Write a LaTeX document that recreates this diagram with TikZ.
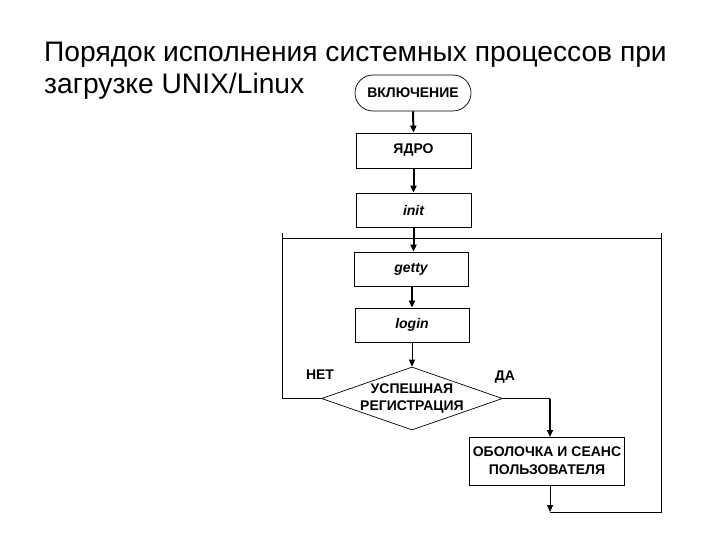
\documentclass[tikz,border=0pt]{standalone}
\usepackage{fontspec}
\setmainfont{Liberation Sans}
\usetikzlibrary{shapes.misc,shapes.geometric,arrows.meta}
\begin{document}
\begin{tikzpicture}[x=1pt,y=-1pt,
  box/.style={draw,line width=0.7pt,rectangle,inner sep=0pt,font=\fontsize{14}{15}\selectfont\bfseries},
  ibox/.style={box,font=\fontsize{14}{15}\selectfont\bfseries\itshape},
  lbl/.style={font=\fontsize{14}{17}\selectfont\bfseries,align=center,inner sep=0pt},
  thk/.style={line width=2pt,-{Triangle[length=7pt,width=6pt]}},
  thn/.style={line width=0.8pt},
  thna/.style={line width=0.8pt,-{Triangle[length=7pt,width=6pt]}}]
\useasboundingbox (0,0) rectangle (720,540);
\fill[white] (0,0) rectangle (720,540);
% title
\node[anchor=base west,inner sep=0pt,font=\fontsize{28.2}{30}\selectfont] (t1) at (44,62) {Порядок исполнения системных процессов при};
\node[anchor=base west,inner sep=0pt,font=\fontsize{28.2}{30}\selectfont] (t2) at (44,93.5) {загрузке UNIX/Linux};
% nodes
\node[draw,line width=0.7pt,rounded rectangle,minimum width=116pt,minimum height=36pt,inner sep=0pt,font=\fontsize{14}{15}\selectfont\bfseries] (vkl) at (413,93) {ВКЛЮЧЕНИЕ};
\node[box,minimum width=115pt,minimum height=35pt] (yadro) at (413.5,150.5) {ЯДРО};
\node[ibox,minimum width=115pt,minimum height=34pt] (init) at (413.5,210) {init};
\node[ibox,minimum width=114pt,minimum height=34pt] (getty) at (411,269) {getty};
\node[ibox,minimum width=114pt,minimum height=34pt] (login) at (412,325) {login};
\node[draw,line width=0.7pt,diamond,minimum width=181pt,minimum height=63pt,inner sep=0pt] (dia) at (412,398.5) {};
\node[lbl] (diat) at (412,399) {УСПЕШНАЯ\\РЕГИСТРАЦИЯ};
\node[box,minimum width=155pt,minimum height=48pt,font=\fontsize{14}{18}\selectfont\bfseries,align=center] (obol) at (547,461) {ОБОЛОЧКА И СЕАНС\\ПОЛЬЗОВАТЕЛЯ};
\node[lbl] (net) at (320,375) {НЕТ};
\node[lbl] (da) at (505,377) {ДА};
% coordinates
\coordinate (dr) at (550,398.5);
\coordinate (obt) at (550,437);
\coordinate (obb) at (550,485);
\coordinate (rb) at (550,512);
\coordinate (rbr) at (661,512);
\coordinate (rt) at (661,238);
\coordinate (rtt) at (661,233);
\coordinate (lt) at (282,238);
\coordinate (ltt) at (282,233);
\coordinate (lb) at (282,398.5);
% connectors
\draw[thk] (vkl.south) -- (yadro.north);
\draw[thk] (yadro.south) -- (init.north);
\draw[thk] (init.south) -- (init.south |- getty.north);
\draw[thk] (login.north |- getty.south) -- (login.north);
\draw[thna] (login.south) -- (dia.north);
\draw[thn] (dia.east) -- (dr);
\draw[thk] (dr) -- (obt);
\draw[thna] (obb) -- (rb);
\draw[thn] (rb) -- (rbr) -- (rtt);
\draw[thn] (lt) -- (rt);
\draw[thn] (ltt) -- (lb) -- (dia.west);
\end{tikzpicture}
\end{document}
